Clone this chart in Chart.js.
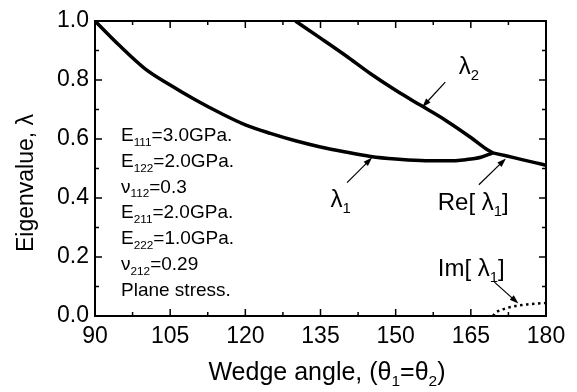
<!DOCTYPE html>
<html lang="en">
<head>
    <meta charset="UTF-8">
    <title>Eigenvalue vs wedge angle</title>
    <style>
        body {
            margin: 0;
            background: #ffffff;
        }
        #chartContainer {
            width: 577px;
            height: 392px;
        }
    </style>
    <script src="https://cdn.jsdelivr.net/npm/chart.js"></script>
</head>
<body>

<div id="chartContainer">
    <canvas id="myChart" width="577" height="392"></canvas>
</div>

<script>
    // values
    const lambda1Angle = [90, 95, 100, 105, 110, 115, 120, 125, 130, 135, 140, 145, 150, 155, 160, 164, 167, 169.4];
    const lambda1Value = [1.0, 0.915, 0.838, 0.783, 0.733, 0.688, 0.648, 0.619, 0.594, 0.573, 0.556, 0.541, 0.532, 0.527, 0.526, 0.530, 0.538, 0.553];

    const lambda2Angle = [130, 135, 140, 145, 150, 155, 160, 165, 168, 169.4];
    const lambda2Value = [1.0, 0.942, 0.883, 0.821, 0.765, 0.714, 0.663, 0.605, 0.567, 0.553];

    const reAngle = [169.4, 172, 175, 178, 180];
    const reValue = [0.553, 0.543, 0.531, 0.519, 0.511];

    const imAngle = [169.4, 170, 171, 172, 174, 176, 178, 180];
    const imValue = [0, 0.012, 0.020, 0.026, 0.034, 0.039, 0.042, 0.044];

    const xTicks = [90, 105, 120, 135, 150, 165, 180];
    const yTicks = [0.0, 0.2, 0.4, 0.6, 0.8, 1.0];

    const materialLines = [
        [['E'], ['111', 1], ['=3.0GPa.']],
        [['E'], ['122', 1], ['=2.0GPa.']],
        [['\u03bd'], ['112', 1], ['=0.3']],
        [['E'], ['211', 1], ['=2.0GPa.']],
        [['E'], ['222', 1], ['=1.0GPa.']],
        [['\u03bd'], ['212', 1], ['=0.29']],
        [['Plane stress.']]
    ];

    const FONT = '"Liberation Sans", Arial, sans-serif';

    function toPoints(xs, ys) {
        return xs.map((x, i) => ({ x: x, y: ys[i] }));
    }

    // draw text with subscripts; parts = [[text, isSub], ...]
    function richWidth(ctx, parts, size) {
        let w = 0;
        for (const p of parts) {
            ctx.font = (p[1] ? size * 0.62 : size) + 'px ' + FONT;
            w += ctx.measureText(p[0]).width;
        }
        return w;
    }

    function drawRich(ctx, parts, x, y, size, align) {
        let cx = x;
        if (align === 'center') cx = x - richWidth(ctx, parts, size) / 2;
        ctx.textBaseline = 'alphabetic';
        ctx.textAlign = 'left';
        for (const p of parts) {
            const s = p[1] ? size * 0.62 : size;
            ctx.font = s + 'px ' + FONT;
            ctx.fillText(p[0], cx, p[1] ? y + size * 0.25 : y);
            cx += ctx.measureText(p[0]).width;
        }
    }

    function arrow(ctx, x1, y1, x2, y2) {
        const a = Math.atan2(y2 - y1, x2 - x1);
        ctx.beginPath();
        ctx.moveTo(x1, y1);
        ctx.lineTo(x2 - 6 * Math.cos(a), y2 - 6 * Math.sin(a));
        ctx.lineWidth = 1.2;
        ctx.stroke();
        ctx.beginPath();
        ctx.moveTo(x2, y2);
        ctx.lineTo(x2 - 9 * Math.cos(a) + 3 * Math.sin(a), y2 - 9 * Math.sin(a) - 3 * Math.cos(a));
        ctx.lineTo(x2 - 9 * Math.cos(a) - 3 * Math.sin(a), y2 - 9 * Math.sin(a) + 3 * Math.cos(a));
        ctx.closePath();
        ctx.fill();
    }

    const framePlugin = {
        id: 'frame',
        afterDraw(chart) {
            const ctx = chart.ctx;
            const a = chart.chartArea;
            const xs = chart.scales.x;
            const ys = chart.scales.y;
            ctx.save();
            ctx.strokeStyle = '#000';
            ctx.fillStyle = '#000';
            ctx.lineWidth = 2;
            ctx.strokeRect(a.left, a.top, a.right - a.left, a.bottom - a.top);

            // inside ticks on all four sides
            ctx.lineWidth = 1.5;
            ctx.beginPath();
            for (let i = 0; i < xTicks.length; i++) {
                const px = xs.getPixelForValue(xTicks[i]);
                ctx.moveTo(px, a.bottom); ctx.lineTo(px, a.bottom - 7);
                ctx.moveTo(px, a.top); ctx.lineTo(px, a.top + 7);
                if (i < xTicks.length - 1) {
                    const mx = xs.getPixelForValue((xTicks[i] + xTicks[i + 1]) / 2);
                    ctx.moveTo(mx, a.bottom); ctx.lineTo(mx, a.bottom - 4);
                    ctx.moveTo(mx, a.top); ctx.lineTo(mx, a.top + 4);
                }
            }
            for (let i = 0; i < yTicks.length; i++) {
                const py = ys.getPixelForValue(yTicks[i]);
                ctx.moveTo(a.left, py); ctx.lineTo(a.left + 7, py);
                ctx.moveTo(a.right, py); ctx.lineTo(a.right - 7, py);
                if (i < yTicks.length - 1) {
                    const my = ys.getPixelForValue((yTicks[i] + yTicks[i + 1]) / 2);
                    ctx.moveTo(a.left, my); ctx.lineTo(a.left + 4, my);
                    ctx.moveTo(a.right, my); ctx.lineTo(a.right - 4, my);
                }
            }
            ctx.stroke();

            // axis titles
            drawRich(ctx, [['Wedge angle, ('], ['\u03b8'], ['1', 1], ['=\u03b8'], ['2', 1], [')']],
                327, 380, 25, 'center');
            ctx.save();
            ctx.translate(33, 183);
            ctx.rotate(-Math.PI / 2);
            drawRich(ctx, [['Eigenvalue, \u03bb']], 0, 0, 23, 'center');
            ctx.restore();

            // material parameters
            materialLines.forEach((parts, i) => {
                drawRich(ctx, parts, 121, 141 + i * 25.8, 19, 'left');
            });

            // curve labels and arrows (placed in data units)
            const X = v => xs.getPixelForValue(v);
            const Y = v => ys.getPixelForValue(v);
            drawRich(ctx, [['\u03bb'], ['2', 1]], X(162.6), Y(0.82), 24, 'left');
            arrow(ctx, X(159.9), Y(0.793), X(155.3), Y(0.708));

            drawRich(ctx, [['\u03bb'], ['1', 1]], X(137.0), Y(0.37), 24, 'left');
            arrow(ctx, X(140.3), Y(0.452), X(145.3), Y(0.537));

            drawRich(ctx, [['Re[ \u03bb'], ['1', 1], [']']], X(158.4), Y(0.36), 24, 'left');
            arrow(ctx, X(166.6), Y(0.445), X(172.0), Y(0.534));

            drawRich(ctx, [['Im[ \u03bb'], ['1', 1], [']']], X(158.4), Y(0.135), 24, 'left');
            arrow(ctx, X(169.7), Y(0.115), X(174.5), Y(0.042));
            ctx.restore();
        }
    };

    const ctx = document.getElementById('myChart').getContext('2d');

    const lineStyle = {
        borderColor: '#000',
        borderWidth: 3.5,
        pointRadius: 0,
        showLine: true,
        fill: false,
        cubicInterpolationMode: 'monotone'
    };

    new Chart(ctx, {
        type: 'scatter',
        data: {
            datasets: [
                Object.assign({ label: '\u03bb1', data: toPoints(lambda1Angle, lambda1Value) }, lineStyle),
                Object.assign({ label: '\u03bb2', data: toPoints(lambda2Angle, lambda2Value) }, lineStyle),
                Object.assign({ label: 'Re[\u03bb1]', data: toPoints(reAngle, reValue) }, lineStyle),
                Object.assign({}, lineStyle, {
                    label: 'Im[\u03bb1]',
                    data: toPoints(imAngle, imValue),
                    borderWidth: 2.5,
                    borderDash: [2.5, 3.5]
                })
            ]
        },
        options: {
            responsive: false,
            animation: false,
            devicePixelRatio: 1,
            layout: { padding: { left: 0, top: 21, right: 31, bottom: 0 } },
            plugins: {
                legend: { display: false },
                tooltip: { enabled: false }
            },
            scales: {
                x: {
                    type: 'linear',
                    min: 90,
                    max: 180,
                    afterFit: s => { s.height = 76; },
                    afterBuildTicks: s => { s.ticks = xTicks.map(v => ({ value: v })); },
                    grid: { display: false, drawTicks: false },
                    border: { display: false },
                    ticks: {
                        color: '#000',
                        padding: 7,
                        maxRotation: 0,
                        font: { family: FONT, size: 23 }
                    }
                },
                y: {
                    min: 0,
                    max: 1,
                    afterFit: s => { s.width = 95; },
                    afterBuildTicks: s => { s.ticks = yTicks.map(v => ({ value: v })); },
                    grid: { display: false, drawTicks: false },
                    border: { display: false },
                    ticks: {
                        color: '#000',
                        padding: 6,
                        font: { family: FONT, size: 23 },
                        callback: v => v.toFixed(1)
                    }
                }
            }
        },
        plugins: [framePlugin]
    });
</script>

</body>
</html>
